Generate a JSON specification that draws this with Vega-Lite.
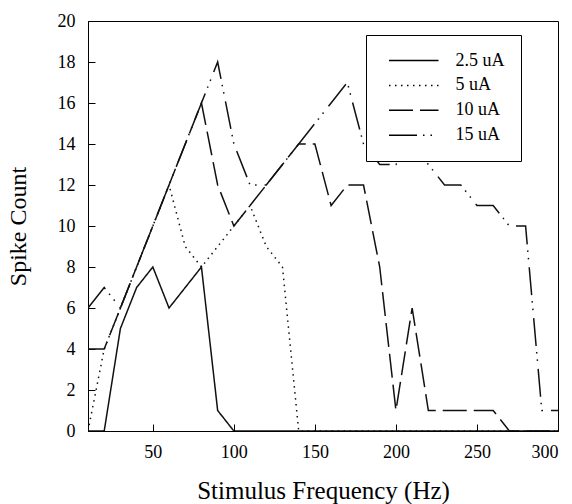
{
  "$schema": "https://vega.github.io/schema/vega-lite/v6.json",
  "width": 470,
  "height": 410,
  "autosize": {"type": "none"},
  "padding": {"left": 88, "top": 21, "right": 14, "bottom": 73},
  "background": "white",
  "config": {
    "font": "Liberation Serif",
    "view": {"stroke": "black", "strokeWidth": 1},
    "axis": {
      "grid": false,
      "domainColor": "black",
      "tickColor": "black",
      "tickSize": -7,
      "labelFont": "Liberation Serif",
      "labelFontSize": 18,
      "labelColor": "black",
      "titleFont": "Liberation Serif",
      "titleFontWeight": "normal",
      "titleColor": "black"
    },
    "legend": {
      "orient": "none",
      "legendX": 278,
      "legendY": 14,
      "strokeColor": "black",
      "fillColor": "white",
      "padding": 16.5,
      "symbolType": "M-0.5,0H9.4",
      "symbolSize": 100,
      "symbolStrokeWidth": 1.5,
      "symbolStrokeColor": "black",
      "labelFont": "Liberation Serif",
      "labelFontSize": 18,
      "labelColor": "black",
      "labelOffset": 55,
      "rowPadding": 6.9
    }
  },
  "data": {
    "values": [
      {"f": 10, "s": 0, "series": "2.5 uA"}, {"f": 20, "s": 0, "series": "2.5 uA"}, {"f": 30, "s": 5, "series": "2.5 uA"}, {"f": 40, "s": 7, "series": "2.5 uA"}, {"f": 50, "s": 8, "series": "2.5 uA"}, {"f": 60, "s": 6, "series": "2.5 uA"}, {"f": 70, "s": 7, "series": "2.5 uA"}, {"f": 80, "s": 8, "series": "2.5 uA"}, {"f": 90, "s": 1, "series": "2.5 uA"}, {"f": 100, "s": 0, "series": "2.5 uA"},
      {"f": 110, "s": 0, "series": "2.5 uA"}, {"f": 120, "s": 0, "series": "2.5 uA"}, {"f": 130, "s": 0, "series": "2.5 uA"}, {"f": 140, "s": 0, "series": "2.5 uA"}, {"f": 150, "s": 0, "series": "2.5 uA"}, {"f": 160, "s": 0, "series": "2.5 uA"}, {"f": 170, "s": 0, "series": "2.5 uA"}, {"f": 180, "s": 0, "series": "2.5 uA"}, {"f": 190, "s": 0, "series": "2.5 uA"}, {"f": 200, "s": 0, "series": "2.5 uA"},
      {"f": 210, "s": 0, "series": "2.5 uA"}, {"f": 220, "s": 0, "series": "2.5 uA"}, {"f": 230, "s": 0, "series": "2.5 uA"}, {"f": 240, "s": 0, "series": "2.5 uA"}, {"f": 250, "s": 0, "series": "2.5 uA"}, {"f": 260, "s": 0, "series": "2.5 uA"}, {"f": 270, "s": 0, "series": "2.5 uA"}, {"f": 280, "s": 0, "series": "2.5 uA"}, {"f": 290, "s": 0, "series": "2.5 uA"}, {"f": 300, "s": 0, "series": "2.5 uA"},
      {"f": 10, "s": 0, "series": "5 uA"}, {"f": 20, "s": 4, "series": "5 uA"}, {"f": 30, "s": 6, "series": "5 uA"}, {"f": 40, "s": 8, "series": "5 uA"}, {"f": 50, "s": 10, "series": "5 uA"}, {"f": 60, "s": 12, "series": "5 uA"}, {"f": 70, "s": 9, "series": "5 uA"}, {"f": 80, "s": 8, "series": "5 uA"}, {"f": 90, "s": 9, "series": "5 uA"}, {"f": 100, "s": 10, "series": "5 uA"},
      {"f": 110, "s": 11, "series": "5 uA"}, {"f": 120, "s": 9, "series": "5 uA"}, {"f": 130, "s": 8, "series": "5 uA"}, {"f": 140, "s": 0, "series": "5 uA"}, {"f": 150, "s": 0, "series": "5 uA"}, {"f": 160, "s": 0, "series": "5 uA"}, {"f": 170, "s": 0, "series": "5 uA"}, {"f": 180, "s": 0, "series": "5 uA"}, {"f": 190, "s": 0, "series": "5 uA"}, {"f": 200, "s": 0, "series": "5 uA"},
      {"f": 210, "s": 0, "series": "5 uA"}, {"f": 220, "s": 0, "series": "5 uA"}, {"f": 230, "s": 0, "series": "5 uA"}, {"f": 240, "s": 0, "series": "5 uA"}, {"f": 250, "s": 0, "series": "5 uA"}, {"f": 260, "s": 0, "series": "5 uA"}, {"f": 270, "s": 0, "series": "5 uA"}, {"f": 280, "s": 0, "series": "5 uA"}, {"f": 290, "s": 0, "series": "5 uA"}, {"f": 300, "s": 0, "series": "5 uA"},
      {"f": 10, "s": 4, "series": "10 uA"}, {"f": 20, "s": 4, "series": "10 uA"}, {"f": 30, "s": 6, "series": "10 uA"}, {"f": 40, "s": 8, "series": "10 uA"}, {"f": 50, "s": 10, "series": "10 uA"}, {"f": 60, "s": 12, "series": "10 uA"}, {"f": 70, "s": 14, "series": "10 uA"}, {"f": 80, "s": 16, "series": "10 uA"}, {"f": 90, "s": 12, "series": "10 uA"}, {"f": 100, "s": 10, "series": "10 uA"},
      {"f": 110, "s": 11, "series": "10 uA"}, {"f": 120, "s": 12, "series": "10 uA"}, {"f": 130, "s": 13, "series": "10 uA"}, {"f": 140, "s": 14, "series": "10 uA"}, {"f": 150, "s": 14, "series": "10 uA"}, {"f": 160, "s": 11, "series": "10 uA"}, {"f": 170, "s": 12, "series": "10 uA"}, {"f": 180, "s": 12, "series": "10 uA"}, {"f": 190, "s": 8, "series": "10 uA"}, {"f": 200, "s": 1, "series": "10 uA"},
      {"f": 210, "s": 6, "series": "10 uA"}, {"f": 220, "s": 1, "series": "10 uA"}, {"f": 230, "s": 1, "series": "10 uA"}, {"f": 240, "s": 1, "series": "10 uA"}, {"f": 250, "s": 1, "series": "10 uA"}, {"f": 260, "s": 1, "series": "10 uA"}, {"f": 270, "s": 0, "series": "10 uA"}, {"f": 280, "s": 0, "series": "10 uA"}, {"f": 290, "s": 0, "series": "10 uA"}, {"f": 300, "s": 0, "series": "10 uA"},
      {"f": 10, "s": 6, "series": "15 uA"}, {"f": 20, "s": 7, "series": "15 uA"}, {"f": 30, "s": 6, "series": "15 uA"}, {"f": 40, "s": 8, "series": "15 uA"}, {"f": 50, "s": 10, "series": "15 uA"}, {"f": 60, "s": 12, "series": "15 uA"}, {"f": 70, "s": 14, "series": "15 uA"}, {"f": 80, "s": 16, "series": "15 uA"}, {"f": 90, "s": 18, "series": "15 uA"}, {"f": 100, "s": 14, "series": "15 uA"},
      {"f": 110, "s": 12, "series": "15 uA"}, {"f": 120, "s": 12, "series": "15 uA"}, {"f": 130, "s": 13, "series": "15 uA"}, {"f": 140, "s": 14, "series": "15 uA"}, {"f": 150, "s": 15, "series": "15 uA"}, {"f": 160, "s": 16, "series": "15 uA"}, {"f": 170, "s": 17, "series": "15 uA"}, {"f": 180, "s": 14, "series": "15 uA"}, {"f": 190, "s": 13, "series": "15 uA"}, {"f": 200, "s": 13, "series": "15 uA"},
      {"f": 210, "s": 14, "series": "15 uA"}, {"f": 220, "s": 13, "series": "15 uA"}, {"f": 230, "s": 12, "series": "15 uA"}, {"f": 240, "s": 12, "series": "15 uA"}, {"f": 250, "s": 11, "series": "15 uA"}, {"f": 260, "s": 11, "series": "15 uA"}, {"f": 270, "s": 10, "series": "15 uA"}, {"f": 280, "s": 10, "series": "15 uA"}, {"f": 290, "s": 1, "series": "15 uA"}, {"f": 300, "s": 1, "series": "15 uA"}
    ]
  },
  "mark": {"type": "line", "color": "#111111", "strokeWidth": 1.5, "clip": true},
  "encoding": {
    "x": {
      "field": "f",
      "type": "quantitative",
      "scale": {"domain": [10, 300], "nice": false, "zero": false},
      "axis": {"values": [50, 100, 150, 200, 250, 300], "title": "Stimulus Frequency (Hz)", "titleFontSize": 25, "titlePadding": 17, "labelPadding": 19}
    },
    "y": {
      "field": "s",
      "type": "quantitative",
      "scale": {"domain": [0, 20], "nice": false},
      "axis": {"values": [0, 2, 4, 6, 8, 10, 12, 14, 16, 18, 20], "title": "Spike Count", "titleFontSize": 24, "titlePadding": 27, "labelPadding": 20}
    },
    "detail": {"field": "series"},
    "strokeDash": {
      "field": "series",
      "type": "nominal",
      "scale": {
        "domain": ["2.5 uA", "5 uA", "10 uA", "15 uA"],
        "range": [[1, 0], [1.5, 4.5], [24, 7], [28, 6, 1.5, 6, 1.5, 8]]
      },
      "legend": {"title": null}
    }
  }
}
